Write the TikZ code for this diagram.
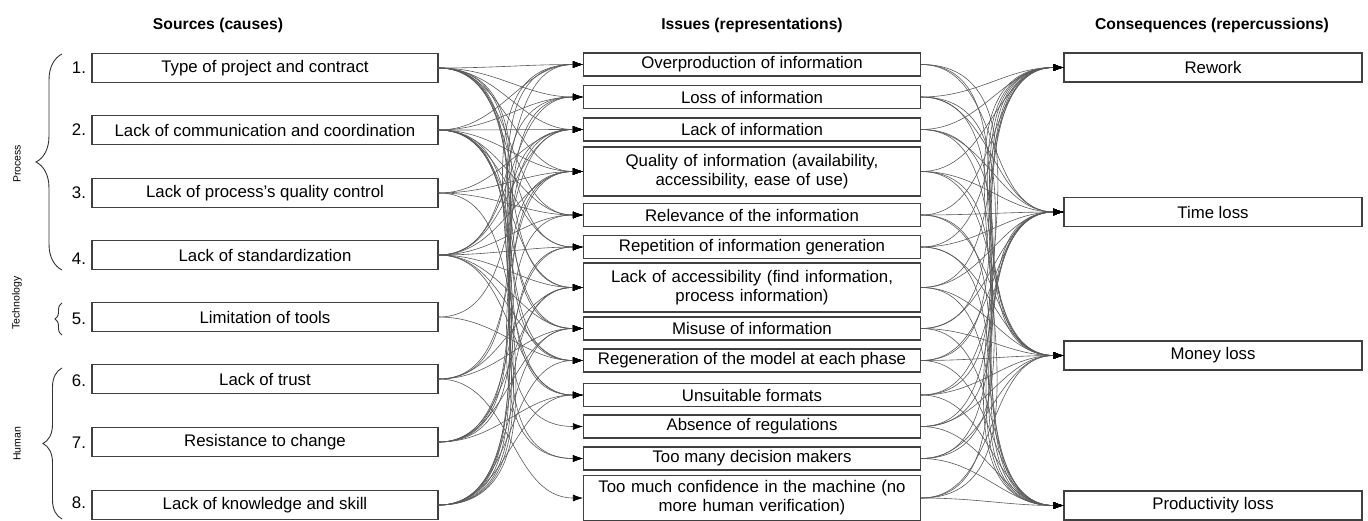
\documentclass[tikz,border=0pt]{standalone}
\usepackage{fontspec}
\setmainfont{Liberation Sans}
\usetikzlibrary{arrows.meta,decorations.pathreplacing}
\begin{document}
\begin{tikzpicture}[x=1pt,y=-1pt,
  box/.style={draw=black!75,line width=1.1pt,fill=white,inner sep=0pt,align=center,font=\fontsize{16.8}{19}\selectfont},
  src/.style={box,minimum width=346pt,minimum height=29pt},
  iss/.style={box,minimum width=337pt,minimum height=23pt},
  iss2/.style={box,minimum width=337pt,minimum height=49pt,text width=330pt},
  con/.style={box,minimum width=298pt,minimum height=29pt},
  head/.style={font=\fontsize{15.7}{18}\selectfont\bfseries},
  num/.style={font=\fontsize{16.8}{19}\selectfont},
  grp/.style={font=\fontsize{10.5}{12}\selectfont,rotate=90},
  link/.style={draw=black!65,line width=0.6pt,-{Latex[length=10pt,width=7pt,color=black]}},
  brc/.style={draw=black!80,line width=0.9pt,decorate}]
\useasboundingbox (0,0) rectangle (1368,520);
% headers
\node[head] (h1) at (218,25) {Sources (causes)};
\node[head] (h2) at (752,25) {Issues (representations)};
\node[head] (h3) at (1212,25) {Consequences (repercussions)};
% sources
\node[src] (s1) at (265,68) {Type of project and contract};
\node[src] (s2) at (265,130) {Lack of communication and coordination};
\node[src] (s3) at (265,193) {Lack of process's quality control};
\node[src] (s4) at (265,255) {Lack of standardization};
\node[src] (s5) at (265,317) {Limitation of tools};
\node[src] (s6) at (265,379) {Lack of trust};
\node[src] (s7) at (265,442) {Resistance to change};
\node[src] (s8) at (265,505) {Lack of knowledge and skill};
\foreach \k/\y in {1/68,2/130,3/193,4/259,5/319,6/381,7/443,8/503}
  \node[num] (n\k) at (79,\y) {\k.};
% braces and groups
\draw[brc,decoration={brace,amplitude=26pt}] (62,270) -- (62,54) coordinate (bp);
\draw[brc,decoration={brace,amplitude=7pt}] (62,335) -- (62,303) coordinate (bt);
\draw[brc,decoration={brace,amplitude=19pt}] (62,519) -- (62,368) coordinate (bh);
\node[grp] (gp) at (17,164) {Process};
\node[grp] (gt) at (17,303) {Technology};
\node[grp] (gh) at (17,444) {Human};
% issues
\node[iss] (i1) at (752,64.5) {Overproduction of information};
\node[iss] (i2) at (752,97) {Loss of information};
\node[iss] (i3) at (752,129.5) {Lack of information};
\node[iss2] (i4) at (752,171.5) {Quality of information (availability,\\accessibility, ease of use)};
\node[iss] (i5) at (752,215) {Relevance of the information};
\node[iss] (i6) at (752,247) {Repetition of information generation};
\node[iss2] (i7) at (752,287.5) {Lack of accessibility (find information,\\process information)};
\node[iss] (i8) at (752,328.5) {Misuse of information};
\node[iss] (i9) at (752,360.5) {Regeneration of the model at each phase};
\node[iss] (i10) at (752,395) {Unsuitable formats};
\node[iss] (i11) at (752,426.5) {Absence of regulations};
\node[iss] (i12) at (752,458.5) {Too many decision makers};
\node[iss2,minimum height=45pt] (i13) at (752,498) {Too much confidence in the machine (no\\more human verification)};
% consequences
\node[con] (c1) at (1213,67.5) {Rework};
\node[con] (c2) at (1213,212) {Time loss};
\node[con] (c3) at (1213,355.5) {Money loss};
\node[con] (c4) at (1213,505.5) {Productivity loss};
% source -> issue links
\foreach \i in {1,2,3,4,5,6,7,8,9,11,12}
  \draw[link] (s1.east) to[out=0,in=180] (i\i.west);
\foreach \i in {1,2,3,4,5,6,7,8,9,10,12}
  \draw[link] (s2.east) to[out=0,in=180] (i\i.west);
\foreach \i in {3,4,5,10}
  \draw[link] (s3.east) to[out=0,in=180] (i\i.west);
\foreach \i in {1,2,3,4,5,6,7,8,9,10}
  \draw[link] (s4.east) to[out=0,in=180] (i\i.west);
\foreach \i in {3,9}
  \draw[link] (s5.east) to[out=0,in=180] (i\i.west);
\foreach \i in {2,4,7,8,13}
  \draw[link] (s6.east) to[out=0,in=180] (i\i.west);
\foreach \i in {1,3,4,6,7,8,10}
  \draw[link] (s7.east) to[out=0,in=180] (i\i.west);
\foreach \i in {1,2,3,4,5,6,7,8,9,10}
  \draw[link] (s8.east) to[out=0,in=180] (i\i.west);
% issue -> consequence links
\foreach \c in {2,3,4}
  \draw[link] (i1.east) to[out=0,in=180] (c\c.west);
\foreach \i in {2,...,13}
  \foreach \c in {1,2,3,4}
    \draw[link] (i\i.east) to[out=0,in=180] (c\c.west);
\end{tikzpicture}
\end{document}
